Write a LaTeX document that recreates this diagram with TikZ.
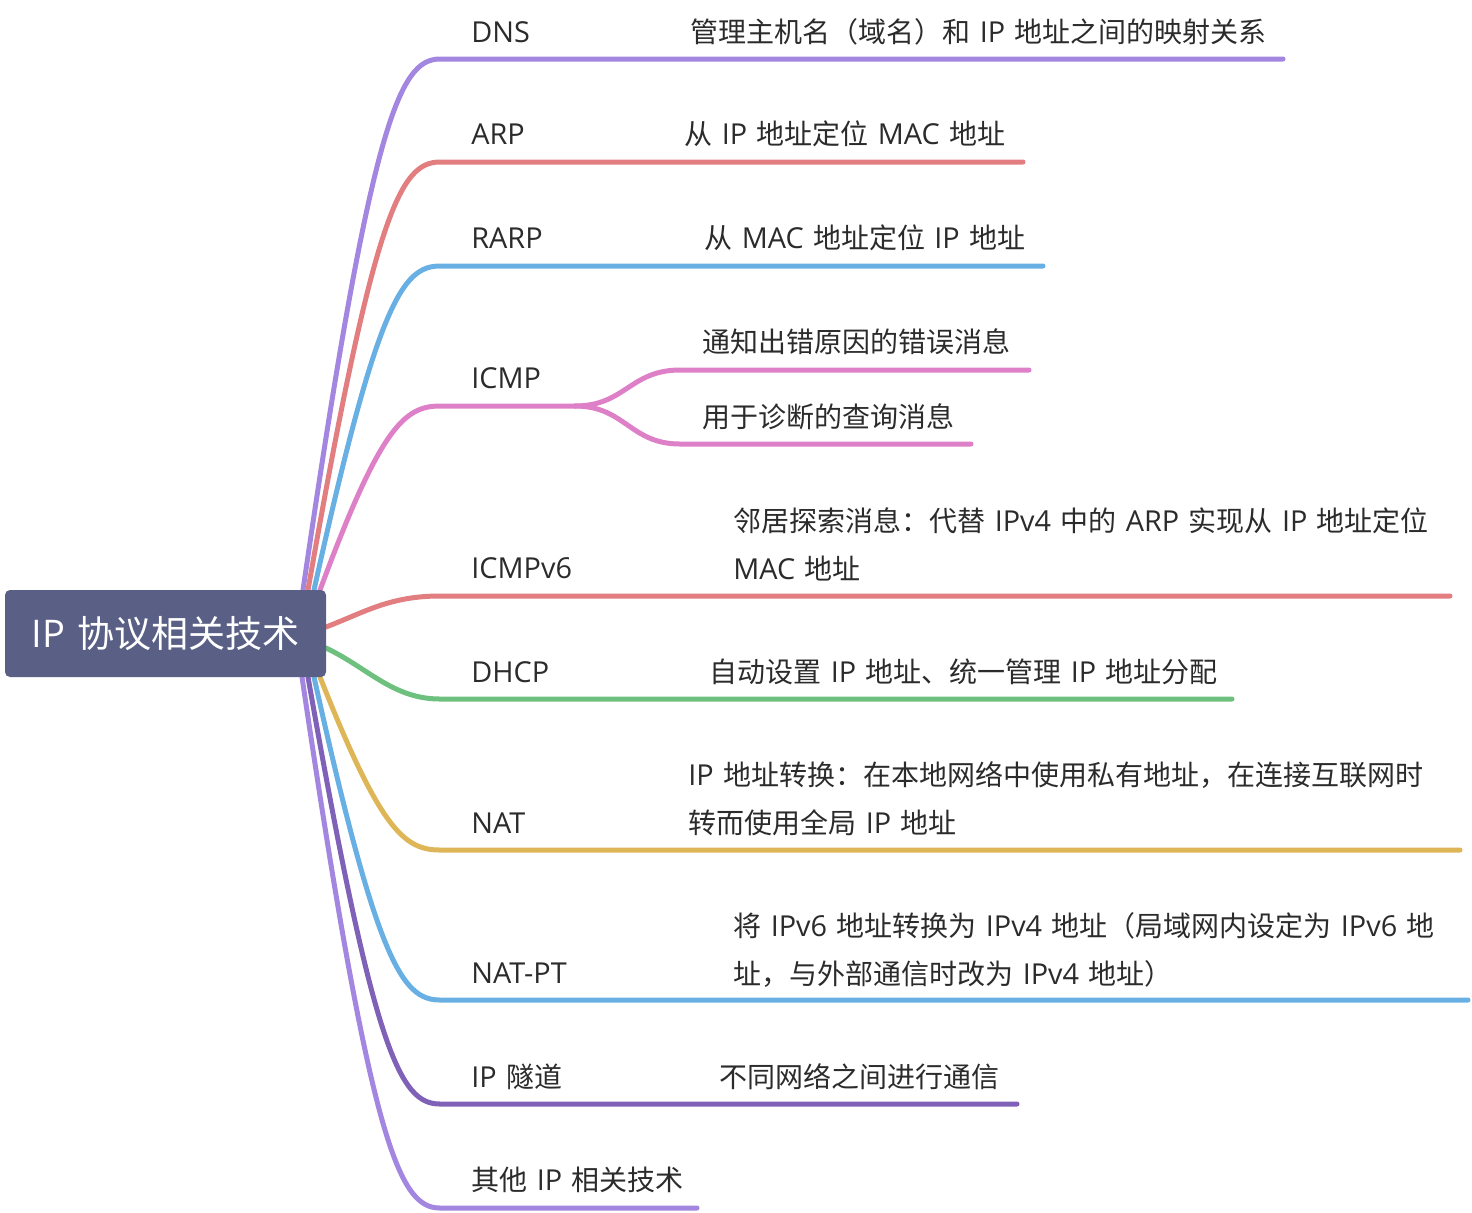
\documentclass[tikz,border=0pt]{standalone}
\usepackage{fontspec}
\setmainfont{Noto Sans CJK SC}
\newfontfamily\latf[WordSpace=1.25,Scale=1.03]{Open Sans}
\newcommand\Lx[1]{{\latf #1}}
\definecolor{rootbg}{RGB}{89,95,133}
\definecolor{cpurple}{RGB}{163,134,224}
\definecolor{cred}{RGB}{226,126,128}
\definecolor{cblue}{RGB}{104,176,228}
\definecolor{cpink}{RGB}{222,128,200}
\definecolor{cgreen}{RGB}{110,192,126}
\definecolor{cyellow}{RGB}{222,182,88}
\definecolor{cdpurple}{RGB}{127,98,184}
\definecolor{ctext}{RGB}{43,43,43}
\tikzset{
  br/.style={line width=2.5pt, line cap=round},
  lbl/.style={anchor=west, inner sep=0pt, text=ctext, font=\fontsize{14}{24}\selectfont},
  desc/.style={anchor=west, inner sep=0pt, text=ctext, align=left, font=\fontsize{14}{24}\selectfont},
  rootbox/.style={fill=rootbg, rounded corners=2.5pt, text=white, font=\fontsize{18.5}{22}\selectfont, inner sep=0pt}
}
\begin{document}
\begin{tikzpicture}[x=0.5pt,y=-0.5pt]
\useasboundingbox (0,0) rectangle (1472,1212);
% start / end coordinates
\coordinate (s1) at (303,590); \coordinate (k1) at (440,59);   \coordinate (e1) at (1283,59);
\coordinate (s2) at (308,590); \coordinate (k2) at (440,162);  \coordinate (e2) at (1023,162);
\coordinate (s3) at (314,590); \coordinate (k3) at (440,266);  \coordinate (e3) at (1043,266);
\coordinate (s4) at (320,590); \coordinate (k4) at (440,406);  \coordinate (f4) at (575,406);
\coordinate (g4a) at (680,370); \coordinate (e4a) at (1029,370);
\coordinate (g4b) at (680,444); \coordinate (e4b) at (971,444);
\coordinate (s5) at (326,627); \coordinate (k5) at (440,596);  \coordinate (e5) at (1450,596);
\coordinate (s6) at (326,648); \coordinate (k6) at (440,699);  \coordinate (e6) at (1232,699);
\coordinate (s7) at (320,677); \coordinate (k7) at (440,850);  \coordinate (e7) at (1460,850);
\coordinate (s8) at (314,677); \coordinate (k8) at (440,1000); \coordinate (e8) at (1468,1000);
\coordinate (s9) at (308,677); \coordinate (k9) at (440,1104); \coordinate (e9) at (1017,1104);
\coordinate (s10) at (302,677); \coordinate (k10) at (440,1208); \coordinate (e10) at (697,1208);

% branches
\draw[br, cpurple] (s1) .. controls (371,123) and (399,59) .. (k1) -- (e1);
\draw[br, cred] (s2) .. controls (374,213) and (400,162) .. (k2) -- (e2);
\draw[br, cblue] (s3) .. controls (377,305) and (402,266) .. (k3) -- (e3);
\draw[br, cpink] (s4) .. controls (380,428) and (404,406) .. (k4) -- (f4);
\draw[br, cpink] (f4) .. controls (625,406) and (630,370) .. (g4a) -- (e4a);
\draw[br, cpink] (f4) .. controls (625,406) and (630,444) .. (g4b) -- (e4b);
\draw[br, cred] (s5) .. controls (365,612) and (390,596) .. (k5) -- (e5);
\draw[br, cgreen] (s6) .. controls (368,668) and (393,699) .. (k6) -- (e6);
\draw[br, cyellow] (s7) .. controls (380,829) and (404,850) .. (k7) -- (e7);
\draw[br, cblue] (s8) .. controls (377,961) and (402,1000) .. (k8) -- (e8);
\draw[br, cdpurple] (s9) .. controls (374,1053) and (400,1104) .. (k9) -- (e9);
\draw[br, cpurple] (s10) .. controls (371,1145) and (399,1208) .. (k10) -- (e10);

% root
\node[rootbox, minimum width=160.5pt, minimum height=43.5pt] (root) at (165.5,633.5) {\Lx{IP }协议相关技术};

% labels
\node[lbl] (dns) at (471,32) {\Lx{DNS}};
\node[desc] (dnsd) at (690,32) {管理主机名（域名）和\Lx{ IP }地址之间的映射关系};
\node[lbl] (arp) at (471,134) {\Lx{ARP}};
\node[desc] (arpd) at (684,134) {从\Lx{ IP }地址定位\Lx{ MAC }地址};
\node[lbl] (rarp) at (471,238) {\Lx{RARP}};
\node[desc] (rarpd) at (704,238) {从\Lx{ MAC }地址定位\Lx{ IP }地址};
\node[lbl] (icmp) at (471,378) {\Lx{ICMP}};
\node[desc] (icmpa) at (702,342) {通知出错原因的错误消息};
\node[desc] (icmpb) at (702,417) {用于诊断的查询消息};
\node[lbl] (icmp6) at (471,568) {\Lx{ICMPv6}};
\node[desc] (icmp6d) at (733,544) {邻居探索消息：代替\Lx{ IPv4 }中的\Lx{ ARP }实现从\Lx{ IP }地址定位\\\Lx{MAC }地址};
\node[lbl] (dhcp) at (471,672) {\Lx{DHCP}};
\node[desc] (dhcpd) at (709,672) {自动设置\Lx{ IP }地址、统一管理\Lx{ IP }地址分配};
\node[lbl] (nat) at (471,823) {\Lx{NAT}};
\node[desc] (natd) at (688,799) {\Lx{IP }地址转换：在本地网络中使用私有地址，在连接互联网时\\转而使用全局\Lx{ IP }地址};
\node[lbl] (natpt) at (471,973) {\Lx{NAT-PT}};
\node[desc] (natptd) at (733,950) {将\Lx{ IPv6 }地址转换为\Lx{ IPv4 }地址（局域网内设定为\Lx{ IPv6 }地\\址，与外部通信时改为\Lx{ IPv4 }地址）};
\node[lbl] (tun) at (471,1077) {\Lx{IP }隧道};
\node[desc] (tund) at (719,1077) {不同网络之间进行通信};
\node[lbl] (other) at (471,1180) {其他\Lx{ IP }相关技术};
\end{tikzpicture}
\end{document}
